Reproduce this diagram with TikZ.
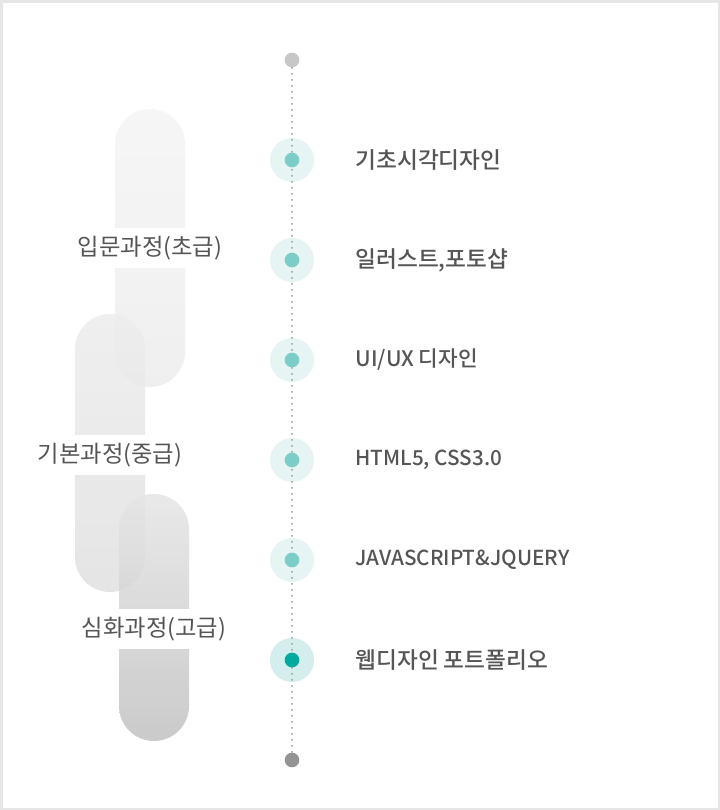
\documentclass[tikz,border=0pt]{standalone}
\usepackage{fontspec}
\setmainfont{Noto Sans CJK KR}[BoldFont={Noto Sans CJK KR Medium}]
\definecolor{framegray}{HTML}{E6E6E6}
\definecolor{textgray}{HTML}{555555}
\definecolor{linegray}{HTML}{9A9A9A}
\definecolor{halo}{HTML}{E6F4F4}
\definecolor{halodark}{HTML}{D3EEED}
\definecolor{mint}{HTML}{7CCDC8}
\definecolor{teal}{HTML}{00A99D}

\tikzset{every picture/.style={line width=0.75pt}}
\tikzset{
  pill/.style={rounded corners=26.25pt, draw=none, fill opacity=0.85},
  stage/.style={fill=white, inner xsep=0pt, minimum height=30pt, text=textgray, font=\fontsize{17.5}{20}\selectfont},
  step label/.style={anchor=west, inner sep=0.75pt, text=textgray, font=\fontsize{17}{20}\selectfont\bfseries},
  latin/.style={font=\fontsize{15.5}{20}\selectfont\bfseries},
  halo dot/.style={circle, fill=halo, minimum size=33pt, inner sep=0pt},
  mid dot/.style={circle, fill=mint, minimum size=11pt, inner sep=0pt},
  end dot/.style={circle, minimum size=11pt, inner sep=0pt},
}

\begin{document}
\begin{tikzpicture}[x=0.75pt,y=0.75pt,yscale=-1,xscale=1]
\useasboundingbox (0,0) rectangle (720,810);

%Shape: Frame
\fill[framegray] (0,0) rectangle (720,810);
\fill[white] (2.5,2.5) rectangle (717.5,807.5);

%Shape: Pills
\shade[pill, top color=black!4, bottom color=black!7] (115,109) rectangle (185,387);
\shade[pill, top color=black!7, bottom color=black!12] (75,314) rectangle (145,592);
\shade[pill, top color=black!10, bottom color=black!24] (119,494) rectangle (189,741);

% Text Node
\node[stage] (basic) at (150,248) {입문과정(초급)};
% Text Node
\node[stage] (middle) at (110,455) {기본과정(중급)};
% Text Node
\node[stage] (advanced) at (154,629) {심화과정(고급)};

%Shape: Timeline ends
\node[end dot, fill=black!22] (top) at (292,60) {};
\node[end dot, fill=black!42] (bottom) at (292,760) {};

%Shape: Halos
\node[halo dot] (h1) at (292,160) {};
\node[halo dot] (h2) at (292,260) {};
\node[halo dot] (h3) at (292,360) {};
\node[halo dot] (h4) at (292,460) {};
\node[halo dot] (h5) at (292,560) {};
\node[halo dot, fill=halodark] (h6) at (292,660) {};

%Straight Lines: timeline
\draw[linegray, line width=1.5pt, line cap=round, dash pattern=on 0pt off 4.5pt] (top) -- (bottom);

%Shape: Dots
\node[mid dot] (d1) at (h1) {};
\node[mid dot] (d2) at (h2) {};
\node[mid dot] (d3) at (h3) {};
\node[mid dot] (d4) at (h4) {};
\node[mid dot] (d5) at (h5) {};
\node[mid dot, fill=teal] (d6) at (h6) {};

% Text Node
\node[step label] (s1) at (354,160) {기초시각디자인};
% Text Node
\node[step label] (s2) at (354,260) {일러스트,포토샵};
% Text Node
\node[step label, font=\fontsize{16}{20}\selectfont\bfseries] (s3) at (354,360) {UI/UX 디자인};
% Text Node
\node[step label, latin] (s4) at (354,460) {HTML5, CSS3.0};
% Text Node
\node[step label, latin] (s5) at (354,560) {JAVASCRIPT\&JQUERY};
% Text Node
\node[step label] (s6) at (354,660) {웹디자인 포트폴리오};

\end{tikzpicture}
\end{document}
